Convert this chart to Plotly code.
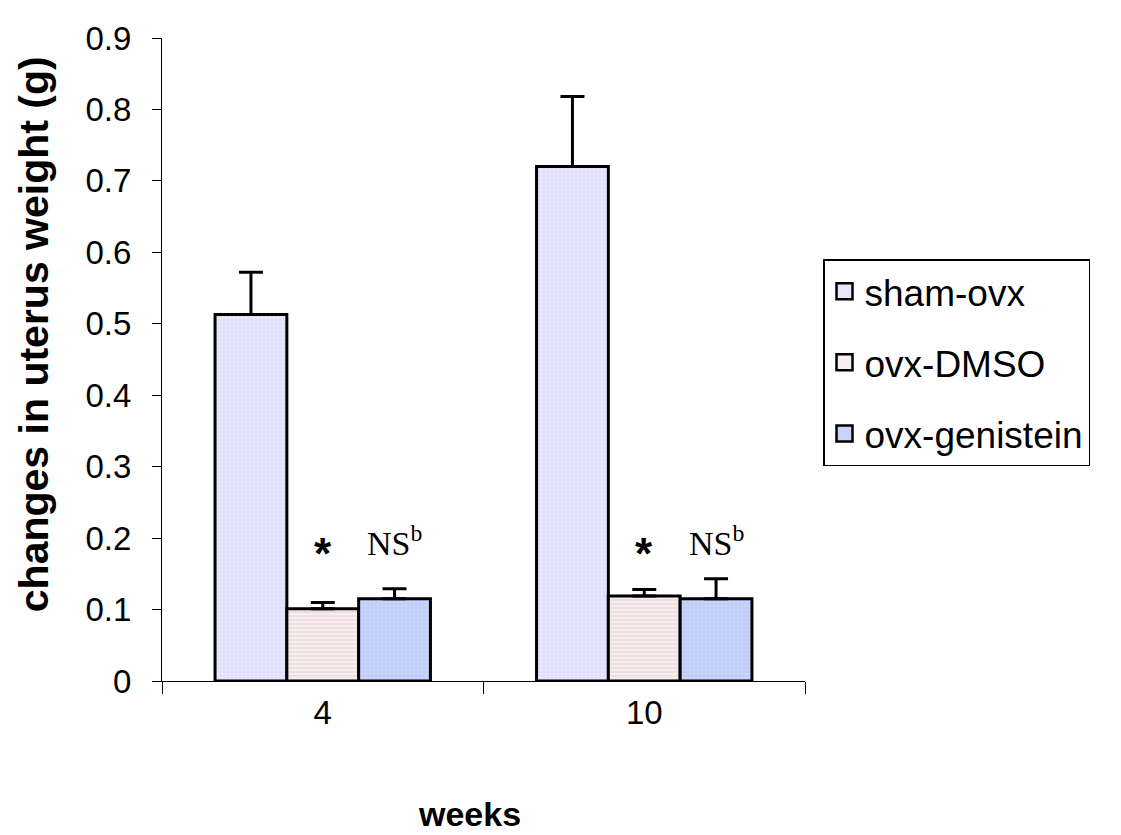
import plotly.graph_objects as go

weeks = ["4", "10"]
groups = ["sham-ovx", "ovx-DMSO", "ovx-genistein"]
sham_ovx = [0.513, 0.720]
ovx_dmso = [0.101, 0.119]
ovx_genistein = [0.115, 0.115]
sham_err = [0.059, 0.098]
dmso_err = [0.009, 0.009]
genistein_err = [0.014, 0.028]
star_label = "<b>*</b>"
ns_label = "NS<sup>b</sup>"
y_title = "<b>changes in uterus weight (g)</b>"
x_title = "<b>weeks</b>"

values = [sham_ovx, ovx_dmso, ovx_genistein]
errors = [sham_err, dmso_err, genistein_err]
styles = [
    dict(bg="#E6E6FD", fg="#D2D2F4", shape="."),
    dict(bg="#F7EEF0", fg="#DDB6BE", shape="-"),
    dict(bg="#C7D3FA", fg="#AEBDF0", shape="."),
]

FONT = "Arial, Liberation Sans, sans-serif"
fig = go.Figure()
for i, (name, vals, errs, st) in enumerate(zip(groups, values, errors, styles)):
    fig.add_trace(go.Bar(
        x=weeks, y=vals, name=name, legendgroup=name, showlegend=False,
        marker=dict(color=st["bg"], line=dict(color="black", width=3),
                    pattern=dict(shape=st["shape"], fgcolor=st["fg"], bgcolor=st["bg"],
                                 size=4, solidity=0.3)),
        error_y=dict(type="data", array=errs, symmetric=False, arrayminus=[0, 0],
                     color="black", thickness=3, width=12),
    ))
# legend entries with larger square keys
for name, st in zip(groups, styles):
    fig.add_trace(go.Scatter(
        x=[None], y=[None], mode="markers", name=name, legendgroup=name,
        marker=dict(symbol="square", size=16, color=st["bg"],
                    line=dict(color="black", width=2.5)),
    ))

# significance labels (x given as category index)
star_y = 0.178
ns_y = 0.196
for idx, w in enumerate(weeks):
    fig.add_annotation(x=idx, y=star_y, text=star_label, showarrow=False,
                       font=dict(family=FONT, size=44, color="black"))
    fig.add_annotation(x=idx, y=ns_y, xshift=72, text=ns_label, showarrow=False,
                       font=dict(family="Liberation Serif, Times New Roman, serif", size=34, color="black"))

# axis titles
fig.add_annotation(xref="paper", yref="paper", x=-0.2, y=0.54, text=y_title,
                   textangle=-90, showarrow=False, xanchor="center", yanchor="middle",
                   font=dict(family=FONT, size=41, color="black"))
fig.add_annotation(xref="paper", yref="paper", x=0.479, y=-0.207, text=x_title,
                   showarrow=False, xanchor="center", yanchor="middle",
                   font=dict(family=FONT, size=34, color="black"))

fig.update_layout(
    width=1113, height=827,
    margin=dict(l=154, r=316, t=24, b=154),
    paper_bgcolor="white", plot_bgcolor="white",
    barmode="group", bargap=0.33, bargroupgap=0,
    font=dict(family=FONT, color="black"),
    legend=dict(x=1.028, y=0.656, xanchor="left", yanchor="top",
                bordercolor="black", borderwidth=1.5, bgcolor="white",
                font=dict(family=FONT, size=37), tracegroupgap=20,
                itemsizing="trace"),
    showlegend=True,
)
fig.update_xaxes(
    type="category", range=[-0.5, 1.5], showline=True, linecolor="black", linewidth=1.3,
    ticks="outside", tickson="boundaries", ticklen=12, tickcolor="black", tickwidth=1.3,
    tickfont=dict(family=FONT, size=33), ticklabelstandoff=2,
    showgrid=False, zeroline=False,
)
fig.update_yaxes(
    range=[0, 0.9], dtick=0.1, tick0=0, tickformat="~g",
    showline=True, linecolor="black", linewidth=1.3,
    ticks="outside", ticklen=9, tickcolor="black", tickwidth=1.3,
    tickfont=dict(family=FONT, size=33), ticklabelstandoff=14,
    showgrid=False, zeroline=False,
)

fig.write_html("out.html")
